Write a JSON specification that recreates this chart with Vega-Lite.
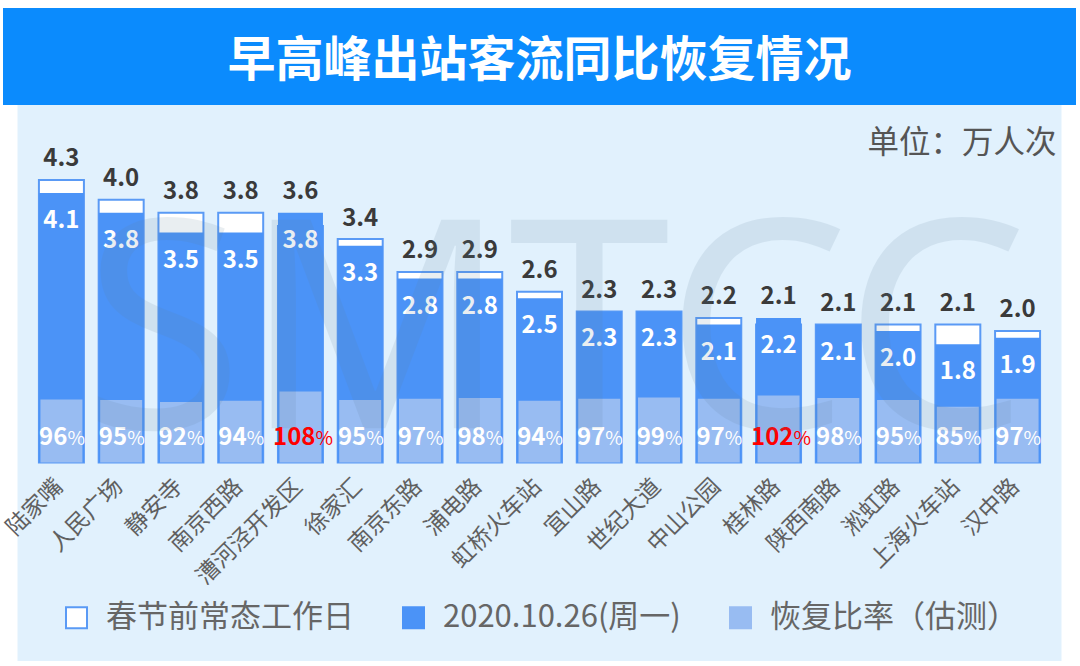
{
  "$schema": "https://vega.github.io/schema/vega-lite/v6.json",
  "background": "#ffffff",
  "padding": {"left": 2, "right": 5, "top": 8, "bottom": 5},
  "spacing": 0,
  "center": true,
  "bounds": "flush",
  "config": {"view": {"stroke": null}, "font": "Noto Sans CJK SC"},
  "vconcat": [
    {
      "width": 1073,
      "height": 97,
      "view": {"fill": "#0b8bfd"},
      "data": {"values": [{"t": "早高峰出站客流同比恢复情况"}]},
      "mark": {"type": "text", "fontSize": 48, "fontWeight": "bold", "color": "#ffffff", "baseline": "middle", "align": "center", "dy": 5, "font": "Noto Sans CJK SC"},
      "encoding": {"text": {"field": "t", "type": "nominal"}}
    },
    {
      "width": 1044,
      "height": 556,
      "view": {"fill": "#e1f1fd"},
      "title": {"text": "单位：万人次", "anchor": "end", "orient": "top", "offset": -54, "dx": -5, "fontSize": 31.5, "fontWeight": "normal", "color": "#555555", "font": "Noto Sans CJK SC", "frame": "group"},
      "data": {"values": [
        {"s": "陆家嘴", "pre": 4.3, "cur": 4.1, "ratio": 96},
        {"s": "人民广场", "pre": 4.0, "cur": 3.8, "ratio": 95},
        {"s": "静安寺", "pre": 3.8, "cur": 3.5, "ratio": 92},
        {"s": "南京西路", "pre": 3.8, "cur": 3.5, "ratio": 94},
        {"s": "漕河泾开发区", "pre": 3.6, "cur": 3.8, "ratio": 108},
        {"s": "徐家汇", "pre": 3.4, "cur": 3.3, "ratio": 95},
        {"s": "南京东路", "pre": 2.9, "cur": 2.8, "ratio": 97},
        {"s": "浦电路", "pre": 2.9, "cur": 2.8, "ratio": 98},
        {"s": "虹桥火车站", "pre": 2.6, "cur": 2.5, "ratio": 94},
        {"s": "宜山路", "pre": 2.3, "cur": 2.3, "ratio": 97},
        {"s": "世纪大道", "pre": 2.3, "cur": 2.3, "ratio": 99},
        {"s": "中山公园", "pre": 2.2, "cur": 2.1, "ratio": 97},
        {"s": "桂林路", "pre": 2.1, "cur": 2.2, "ratio": 102},
        {"s": "陕西南路", "pre": 2.1, "cur": 2.1, "ratio": 98},
        {"s": "淞虹路", "pre": 2.1, "cur": 2.0, "ratio": 95},
        {"s": "上海火车站", "pre": 2.1, "cur": 1.8, "ratio": 85},
        {"s": "汉中路", "pre": 2.0, "cur": 1.9, "ratio": 97}
      ]},
      "resolve": {"scale": {"y": "independent"}},
      "layer": [
        {
          "encoding": {"x": {"field": "s", "type": "nominal", "sort": null, "axis": null, "scale": {"paddingInner": 0.247, "paddingOuter": 0.3585}}},
          "layer": [
            {
              "mark": {"type": "bar", "strokeWidth": 2},
              "encoding": {
                "y": {"field": "pre", "type": "quantitative", "axis": null, "scale": {"domain": [-3.021, 5.441], "nice": false, "zero": false}},
                "y2": {"datum": 0},
                "fill": {"datum": "春节前常态工作日", "type": "nominal",
                  "scale": {"domain": ["春节前常态工作日", "2020.10.26(周一)", "恢复比率（估测）"], "range": ["#ffffff", "#4b93f7", "#98bcf2"]},
                  "legend": {"orient": "none", "legendX": 58, "legendY": 594, "direction": "horizontal", "title": null, "symbolType": "square", "symbolSize": 441, "symbolStrokeWidth": 2, "labelFontSize": 31, "labelColor": "#666666", "labelFont": "Noto Sans CJK SC", "labelOffset": 14, "columnPadding": 44, "labelLimit": 400}},
                "stroke": {"datum": "春节前常态工作日", "type": "nominal",
                  "scale": {"domain": ["春节前常态工作日", "2020.10.26(周一)", "恢复比率（估测）"], "range": ["#5a9af5", "#4b93f7", "#98bcf2"]},
                  "legend": {"orient": "none", "legendX": 58, "legendY": 594, "direction": "horizontal", "title": null, "symbolType": "square", "symbolSize": 441, "symbolStrokeWidth": 2, "labelFontSize": 31, "labelColor": "#666666", "labelFont": "Noto Sans CJK SC", "labelOffset": 14, "columnPadding": 44, "labelLimit": 400}}
              }
            },
            {
              "mark": {"type": "bar"},
              "encoding": {
                "y": {"field": "cur", "type": "quantitative"},
                "y2": {"datum": 0},
                "fill": {"datum": "2020.10.26(周一)", "type": "nominal",
                  "scale": {"domain": ["春节前常态工作日", "2020.10.26(周一)", "恢复比率（估测）"], "range": ["#ffffff", "#4b93f7", "#98bcf2"]},
                  "legend": {"orient": "none", "legendX": 58, "legendY": 594, "direction": "horizontal", "title": null, "symbolType": "square", "symbolSize": 441, "symbolStrokeWidth": 2, "labelFontSize": 31, "labelColor": "#666666", "labelFont": "Noto Sans CJK SC", "labelOffset": 14, "columnPadding": 44, "labelLimit": 400}}
              }
            },
            {
              "transform": [{"calculate": "max(datum.pre, datum.cur)", "as": "top"}],
              "mark": {"type": "text", "baseline": "alphabetic", "dy": -13.6, "fontSize": 24, "fontWeight": "bold", "color": "#3a3a3a"},
              "encoding": {
                "y": {"field": "top", "type": "quantitative"},
                "text": {"field": "pre", "type": "quantitative", "format": ".1f"}
              }
            },
            {
              "mark": {"type": "text", "baseline": "alphabetic", "dy": 35, "fontSize": 24, "fontWeight": "bold", "color": "#ffffff"},
              "encoding": {
                "y": {"field": "cur", "type": "quantitative"},
                "text": {"field": "cur", "type": "quantitative", "format": ".1f"}
              }
            },
            {
              "mark": {"type": "text", "angle": 315, "align": "right", "baseline": "middle", "dx": -2.83, "fontSize": 23, "color": "#606060"},
              "encoding": {
                "y": {"datum": -0.282, "type": "quantitative"},
                "text": {"field": "s", "type": "nominal"}
              }
            }
          ]
        },
        {
          "encoding": {"x": {"field": "s", "type": "nominal", "sort": null, "axis": null, "scale": {"paddingInner": 0.247, "paddingOuter": 0.3585}}},
          "layer": [
            {
              "mark": {"type": "bar", "width": {"band": 0.933}},
              "encoding": {
                "y": {"field": "ratio", "type": "quantitative", "axis": null, "scale": {"domain": [-302.1, 544.1], "nice": false, "zero": false}},
                "y2": {"datum": 0},
                "fill": {"datum": "恢复比率（估测）", "type": "nominal",
                  "scale": {"domain": ["春节前常态工作日", "2020.10.26(周一)", "恢复比率（估测）"], "range": ["#ffffff", "#4b93f7", "#98bcf2"]},
                  "legend": {"orient": "none", "legendX": 58, "legendY": 594, "direction": "horizontal", "title": null, "symbolType": "square", "symbolSize": 441, "symbolStrokeWidth": 2, "labelFontSize": 31, "labelColor": "#666666", "labelFont": "Noto Sans CJK SC", "labelOffset": 14, "columnPadding": 44, "labelLimit": 400}}
              }
            },
            {
              "transform": [{"filter": "datum.ratio < 100"}],
              "mark": {"type": "text", "align": "right", "baseline": "alphabetic", "dx": 6, "dy": -17.5, "fontSize": 24, "fontWeight": "bold", "color": "#ffffff"},
              "encoding": {"y": {"datum": 0, "type": "quantitative"}, "text": {"field": "ratio", "type": "quantitative"}}
            },
            {
              "transform": [{"filter": "datum.ratio < 100"}],
              "mark": {"type": "text", "align": "left", "baseline": "alphabetic", "dx": 6, "dy": -17.5, "fontSize": 19, "color": "#ffffff"},
              "encoding": {"y": {"datum": 0, "type": "quantitative"}, "text": {"value": "%"}}
            },
            {
              "transform": [{"filter": "datum.ratio >= 100"}],
              "mark": {"type": "text", "align": "right", "baseline": "alphabetic", "dx": 15, "dy": -17.5, "fontSize": 24, "fontWeight": "bold", "color": "#ff0000"},
              "encoding": {"y": {"datum": 0, "type": "quantitative"}, "text": {"field": "ratio", "type": "quantitative"}}
            },
            {
              "transform": [{"filter": "datum.ratio >= 100"}],
              "mark": {"type": "text", "align": "left", "baseline": "alphabetic", "dx": 15, "dy": -17.5, "fontSize": 19, "color": "#ff0000"},
              "encoding": {"y": {"datum": 0, "type": "quantitative"}, "text": {"value": "%"}}
            }
          ]
        },
        {
          "data": {"values": [{"wm": "SMTCC"}]},
          "mark": {"type": "text", "align": "center", "baseline": "alphabetic", "dx": 16, "fontSize": 292, "font": "Noto Sans", "color": "#5f7f99", "opacity": 0.13},
          "encoding": {
            "y": {"datum": 0.52, "type": "quantitative", "axis": null, "scale": {"domain": [-3.021, 5.441], "nice": false, "zero": false}},
            "text": {"field": "wm", "type": "nominal"}
          }
        }
      ]
    }
  ]
}
